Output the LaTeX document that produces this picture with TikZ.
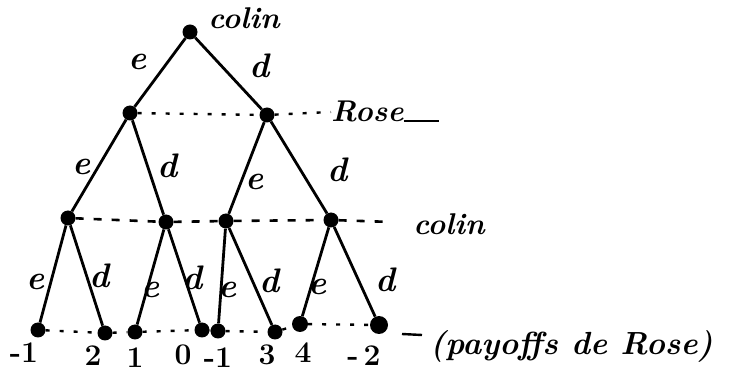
\documentclass[tikz,border=0pt]{standalone}
\usepackage{fontspec}
\begin{document}
\begin{tikzpicture}[x=1pt,y=-1pt,
  dot/.style={circle,fill=black,inner sep=0pt,minimum size=15pt},
  edge/.style={line width=2.8pt},
  infoa/.style={line width=2.4pt,dash pattern=on 4pt off 10pt},
  infob/.style={line width=2.6pt,dash pattern=on 8pt off 10pt},
  lab/.style={font=\fontsize{34}{38}\selectfont\bfseries\itshape,inner sep=0pt},
  num/.style={font=\fontsize{30}{34}\selectfont\bfseries,inner sep=0pt},
  pl/.style={font=\fontsize{30}{34}\selectfont\bfseries\itshape,inner sep=0pt}]
\useasboundingbox (0,0) rectangle (729,382);
% nodes
\node[dot] (r) at (190,32) {};
\node[dot] (a) at (130,113) {};
\node[dot] (b) at (267,115) {};
\node[dot] (a1) at (68,218) {};
\node[dot] (a2) at (166,222) {};
\node[dot] (b1) at (226,221) {};
\node[dot] (b2) at (331,220) {};
\node[dot] (l1) at (38,330) {};
\node[dot] (l2) at (105,333) {};
\node[dot] (l3) at (135,332) {};
\node[dot] (l4) at (202,330) {};
\node[dot] (l5) at (218,331) {};
\node[dot] (l6) at (275,332) {};
\node[dot,minimum size=16pt] (l7) at (300,324) {};
\node[dot,minimum size=18pt] (l8) at (379,325) {};
% edges
\draw[edge] (r) -- (a);
\draw[edge] (r) -- (b);
\draw[edge] (a) -- (a1);
\draw[edge] (a) -- (a2);
\draw[edge] (b) -- (b1);
\draw[edge] (b) -- (b2);
\draw[edge] (a1) -- (l1);
\draw[edge] (a1) -- (l2);
\draw[edge] (a2) -- (l3);
\draw[edge] (a2) -- (l4);
\draw[edge] (b1) -- (l5);
\draw[edge] (b1) -- (l6);
\draw[edge] (b2) -- (l7);
\draw[edge] (b2) -- (l8);
% player labels
\node[pl] (pc1) at (244,18) {colin};
\node[pl,anchor=base west] (pr) at (331,122) {Rose};
\node[pl] (pc2) at (449,224) {colin};
\node[pl,anchor=west,font=\fontsize{32}{36}\selectfont\bfseries\itshape] (pay) at (430,346) {(payoffs de Rose)};
% information sets
\draw[infoa] (a) -- (b) -- (pr.west);
\draw[line width=2.4pt] (pr.base east) ++(0,-1) -- ++(35,0) coordinate (pre);
\draw[infob] (a1) -- (a2) -- (b1) -- (b2) -- (392,222) coordinate (ce);
\draw[infoa] (l1) -- (l2) -- (l3) -- (l4) -- (l5) -- (l6) -- (l7) -- (l8);
\coordinate (t1) at (402,334);
\coordinate (t2) at (422,335);
\draw[line width=2.4pt] (t1) -- (t2);
% edge labels
\node[lab] at (138,62) {e};
\node[lab] at (260,66) {d};
\node[lab] at (82,167) {e};
\node[lab] at (168,166) {d};
\node[lab] at (255,182) {e};
\node[lab] at (338,170) {d};
\node[lab] at (36,282) {e};
\node[lab] at (100,276) {d};
\node[lab] at (151,290) {e};
\node[lab] at (193,278) {d};
\node[lab] at (228,290) {e};
\node[lab] at (270,281) {d};
\node[lab] at (318,287) {e};
\node[lab] at (386,280) {d};
% payoffs
\node[num] at (24,353) {-1};
\node[num] at (93,356) {2};
\node[num] at (135,358) {1};
\node[num] at (183,355) {0};
\node[num] at (218,358) {-1};
\node[num] at (267,355) {3};
\node[num] at (303,353) {4};
\node[num] at (364,356) {-\,2};
\end{tikzpicture}
\end{document}
